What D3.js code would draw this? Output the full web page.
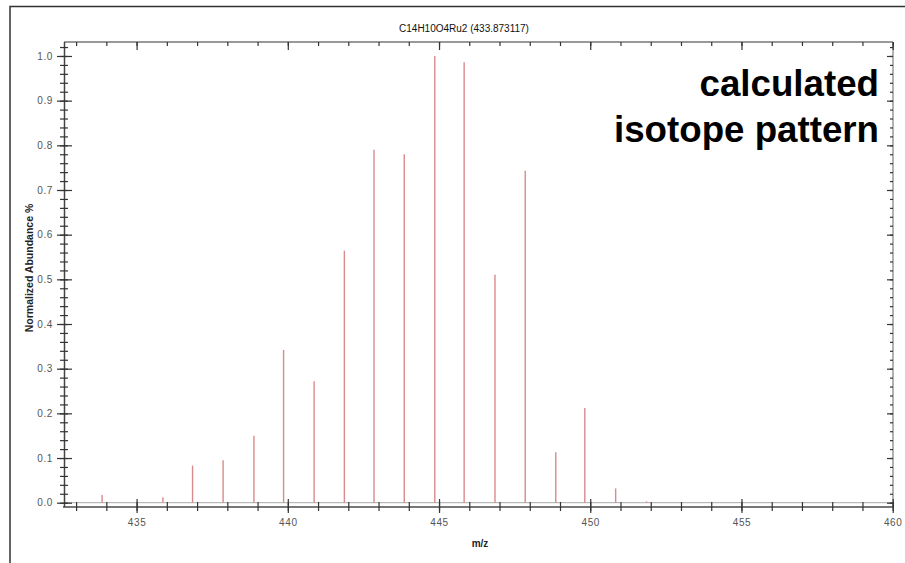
<!DOCTYPE html>
<html>
<head>
<meta charset="utf-8">
<script src="https://cdn.jsdelivr.net/npm/d3@7"></script>
<style>
  body { margin: 0; background: #fff; }
  svg { display: block; font-family: "Liberation Sans", Arial, sans-serif; }
</style>
</head>
<body>
<svg id="chart" width="905" height="563"></svg>
<script>
// Datos del patrón isotópico
var mz = [433.86, 435.87, 436.85, 437.86, 438.88, 439.86, 440.87, 441.87, 442.85,
  443.85, 444.86, 445.83, 446.85, 447.85, 448.86, 449.82, 450.84, 451.86];
var abundance = [0.017, 0.012, 0.083, 0.095, 0.150, 0.342, 0.272, 0.564, 0.790,
  0.780, 1.000, 0.986, 0.510, 0.743, 0.113, 0.212, 0.032, 0.003];
var xMajorTicks = [435, 440, 445, 450, 455, 460];
var yMajorTicks = [0, 0.1, 0.2, 0.3, 0.4, 0.5, 0.6, 0.7, 0.8, 0.9, 1.0];
var titleText = 'C14H10O4Ru2 (433.873117)';
var noteLines = ['calculated', 'isotope pattern'];

// Variables (limites del area de trazado)
var plotLeft = 64, plotRight = 893, plotTop = 42, plotBottom = 502.7;
var svg = d3.select('#chart');

var x = d3.scaleLinear().domain([432.6, 460]).range([plotLeft, 892.7]);
var y = d3.scaleLinear().domain([0, 1.0313]).range([plotBottom, plotTop]);

// minor ticks
var xMinor = d3.range(433, 461, 1);
var yMinor = d3.range(0, 52).map(function (i) { return +(i * 0.02).toFixed(2); });

// Marco de la imagen
svg.append('path')
  .attr('d', 'M10,563 V6.5 H905')
  .attr('fill', 'none')
  .attr('stroke', '#333')
  .attr('stroke-width', 1.5);

// Bordes del area
svg.append('line')
  .attr('x1', plotLeft).attr('x2', plotRight).attr('y1', plotTop).attr('y2', plotTop)
  .attr('stroke', '#999').attr('stroke-width', 2);
svg.append('line')
  .attr('x1', plotRight).attr('x2', plotRight).attr('y1', plotTop).attr('y2', 507)
  .attr('stroke', '#999').attr('stroke-width', 1.5);
svg.append('line')
  .attr('x1', plotLeft).attr('x2', plotRight).attr('y1', plotBottom).attr('y2', plotBottom)
  .attr('stroke', '#aaa').attr('stroke-width', 1);
svg.append('line')
  .attr('x1', 63).attr('x2', plotRight).attr('y1', 507).attr('y2', 507)
  .attr('stroke', '#777').attr('stroke-width', 1.8);
svg.append('line')
  .attr('x1', 64.5).attr('x2', 64.5).attr('y1', plotTop).attr('y2', 507)
  .attr('stroke', '#444').attr('stroke-width', 1.5);

function styleAxis(g) {
  g.select('.domain').remove();
  g.selectAll('.tick line').attr('stroke', '#333').attr('stroke-width', 1.2);
  g.selectAll('.tick text')
    .attr('fill', '#555')
    .style('font-size', '10px')
    .style('letter-spacing', '0.6px');
}

// Eje X (abajo)
svg.append('g')
  .attr('transform', 'translate(0,502)')
  .call(d3.axisBottom(x).tickValues(xMinor).tickSize(9).tickFormat(''))
  .call(styleAxis);
svg.append('g')
  .attr('transform', 'translate(0,499)')
  .call(d3.axisBottom(x).tickValues(xMajorTicks).tickSize(14).tickPadding(6).tickFormat(d3.format('d')))
  .call(styleAxis);

// Eje X (arriba)
svg.append('g')
  .attr('transform', 'translate(0,46)')
  .call(d3.axisTop(x).tickValues(xMinor).tickSize(4).tickFormat(''))
  .call(styleAxis);
svg.append('g')
  .attr('transform', 'translate(0,50)')
  .call(d3.axisTop(x).tickValues(xMajorTicks).tickSize(8).tickFormat(''))
  .call(styleAxis);

// Eje Y (izquierda)
svg.append('g')
  .attr('transform', 'translate(68,0)')
  .call(d3.axisLeft(y).tickValues(yMinor).tickSize(8).tickFormat(''))
  .call(styleAxis);
svg.append('g')
  .attr('transform', 'translate(72,0)')
  .call(d3.axisLeft(y).tickValues(yMajorTicks).tickSize(15).tickPadding(4).tickFormat(d3.format('.1f')))
  .call(styleAxis);

// Eje Y (derecha)
svg.append('g')
  .attr('transform', 'translate(890,0)')
  .call(d3.axisRight(y).tickValues(yMinor).tickSize(3).tickFormat(''))
  .call(styleAxis);
svg.append('g')
  .attr('transform', 'translate(887,0)')
  .call(d3.axisRight(y).tickValues(yMajorTicks).tickSize(6).tickFormat(''))
  .call(styleAxis);

// Barras (sticks)
svg.append('g')
  .selectAll('line')
  .data(mz)
  .enter()
  .append('line')
  .attr('x1', function (d) { return x(d); })
  .attr('x2', function (d) { return x(d); })
  .attr('y1', y(0))
  .attr('y2', function (d, i) { return y(abundance[i]); })
  .attr('stroke', '#d98a8c')
  .attr('stroke-width', 1.4);

// Titulos
svg.append('text')
  .attr('x', 464).attr('y', 32)
  .attr('text-anchor', 'middle')
  .style('font-size', '10px')
  .attr('fill', '#111')
  .text(titleText);

svg.append('text')
  .attr('x', 480).attr('y', 547)
  .attr('text-anchor', 'middle')
  .style('font-size', '10px')
  .style('font-weight', 'bold')
  .attr('fill', '#222')
  .text('m/z');

svg.append('text')
  .attr('transform', 'translate(33,268) rotate(-90)')
  .attr('text-anchor', 'middle')
  .style('font-size', '10.5px')
  .style('font-weight', 'bold')
  .attr('fill', '#222')
  .text('Normalized Abundance %');

// Anotacion
svg.append('g')
  .selectAll('text')
  .data(noteLines)
  .enter()
  .append('text')
  .attr('x', 879)
  .attr('y', function (d, i) { return 96 + i * 45.7; })
  .attr('text-anchor', 'end')
  .style('font-size', '36.7px')
  .style('font-weight', 'bold')
  .attr('fill', '#000')
  .text(function (d) { return d; });
</script>
</body>
</html>
